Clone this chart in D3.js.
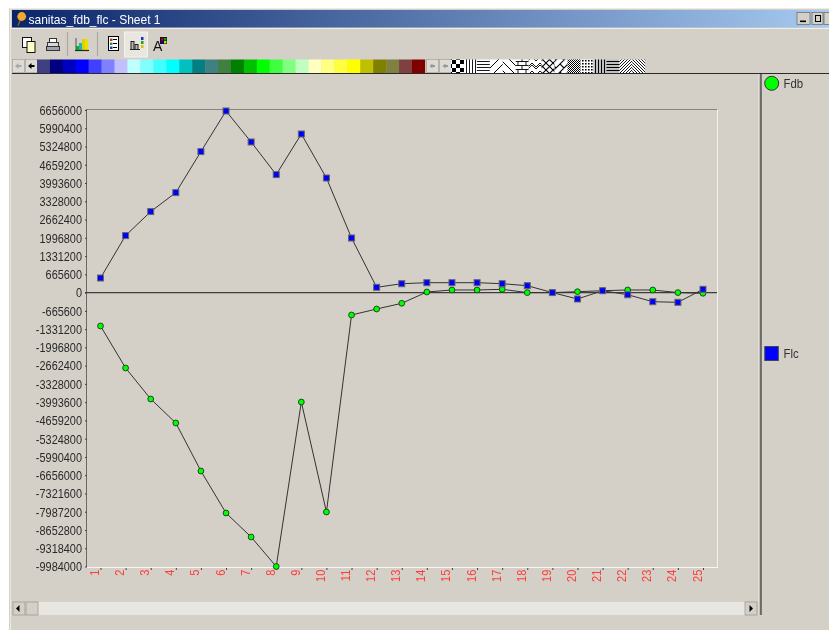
<!DOCTYPE html>
<html><head><meta charset="utf-8">
<script src="https://cdn.jsdelivr.net/npm/d3@7"></script>
<style>
html,body{margin:0;padding:0;background:#fff;overflow:hidden}
svg{display:block}
text{font-family:"Liberation Sans",Arial,sans-serif}
</style></head><body><div id="c"></div>
<script>
const categories=d3.range(1,26).map(String);
const fdbValues=[-1217000,-2748000,-3878000,-4753000,-6503000,-8034000,-8909000,-9984000,-3988000,-7997000,-816000,-598000,-390000,22000,95000,95000,120000,0,0,33000,69000,95000,95000,0,-25000];
const flcValues=[532000,2078000,2953000,3645000,5140000,6620000,5490000,4301000,5781000,4177000,1990000,193000,324000,361000,361000,361000,324000,252000,0,-233000,69000,-77000,-332000,-354000,120000];
const yTicks=[6656000,5990400,5324800,4659200,3993600,3328000,2662400,1996800,1331200,665600,0,-665600,-1331200,-1996800,-2662400,-3328000,-3993600,-4659200,-5324800,-5990400,-6656000,-7321600,-7987200,-8652800,-9318400,-9984000];
const paletteColors=["#404080","#000080","#0000c0","#0000ff","#4040ff","#8080ff","#c0c0ff","#c0ffff","#80ffff","#40ffff","#00ffff","#00c0c0","#008080","#408080","#408040","#008000","#00c000","#00ff00","#40ff40","#80ff80","#c0ffc0","#ffffc0","#ffff80","#ffff40","#ffff00","#c0c000","#808000","#808040","#804040","#800000"];
// tile size, path, filled, stroke width
const hatches=[
 [8,"M0 0h4v4h-4zM4 4h4v4h-4z",1,0],
 [3,"M1.5 0v3",0,.9],
 [3,"M0 1.5h3",0,.9],
 [9,"M0 9L9 0M-2 2L2 -2M7 11L11 7",0,1],
 [9,"M0 0L9 9M-2 7L2 11M7 -2L11 2",0,1],
 [8,"M0 1.5h8M0 5.5h8M2 1.5v4M6 5.5v4M6 -2.5v4",0,.9],
 [8,"M0 5L4 1L8 5M0 11L4 7L8 11M0 3L4 -1L8 3",0,.9],
 [7,"M0 0L7 7M0 7L7 0",0,1.1],
 [8,"M0 8L8 0M-4 4L4 -4M4 12L12 4M0 0L4 4",0,1.1],
 [2,"M0 0h1v1h-1zM1 1h1v1h-1z",1,0],
 [3,"M0 0h1.6v1.6h-1.6z",1,0],
 [3,"M1.5 0v3",0,1.5],
 [3,"M0 1.5h3",0,1.5],
 [3,"M0 3L3 0M-1 1L1 -1M2 4L4 2",0,.9],
 [3,"M0 0L3 3M-1 2L1 4M2 -1L4 1",0,.9]];

const W=829,H=630,face="#d4d0c8";
const svg=d3.select("#c").append("svg").attr("width",W).attr("height",H).style("filter","blur(0.35px)");
const defs=svg.append("defs");
const g=defs.append("linearGradient").attr("id","tb");
g.append("stop").attr("offset",0).attr("stop-color","#0a246a");
g.append("stop").attr("offset",1).attr("stop-color","#a6caf0");
hatches.forEach(([s,d,filled,sw],i)=>{
  const p=defs.append("pattern").attr("id","h"+i).attr("patternUnits","userSpaceOnUse").attr("width",s).attr("height",s);
  p.append("rect").attr("width",s).attr("height",s).attr("fill","#fff");
  const a=p.append("path").attr("d",d);
  if(filled) a.attr("fill","#000"); else a.attr("fill","none").attr("stroke","#000").attr("stroke-width",sw);
});
const rect=(x,y,w,h,f,par=svg)=>par.append("rect").attr("x",x).attr("y",y).attr("width",w).attr("height",h).attr("fill",f);
const line=(x1,y1,x2,y2,c,w=1)=>svg.append("line").attr("x1",x1).attr("y1",y1).attr("x2",x2).attr("y2",y2).attr("stroke",c).attr("stroke-width",w);

// window
rect(0,0,W,H,"#fff");
rect(9,8,W-9,H-8,face);
line(10.5,8,10.5,H,"#ece9e3");
line(10.5,8.5,W,8.5,"#eeeae4");
rect(12,10,W-12,17.5,"url(#tb)");
// pin icon
svg.append("path").attr("d","M20.5 19.5L18 25.5").attr("stroke","#9a6a10").attr("stroke-width",1.3);
svg.append("circle").attr("cx",21.7).attr("cy",16.5).attr("r",4.4).attr("fill","#f5a82f");
svg.append("text").attr("x",28.5).attr("y",24).attr("font-size",13).attr("fill","#fff").attr("textLength",132).attr("lengthAdjust","spacingAndGlyphs").text("sanitas_fdb_flc - Sheet 1");
// window buttons
[[797,13],[812,11],[824,12]].forEach(([x,w])=>{svg.append("rect").attr("x",x).attr("y",12.5).attr("width",w).attr("height",12).attr("fill",face).attr("stroke","#666").attr("stroke-width",.7);});
rect(800,20.5,6,1.6,"#000");
svg.append("rect").attr("x",815.5).attr("y",15.5).attr("width",5).attr("height",6).attr("fill","none").attr("stroke","#000");
line(10,28.5,W,28.5,"#f0eee8");

// toolbar
const doc=(x,y)=>{svg.append("rect").attr("x",x).attr("y",y).attr("width",9).attr("height",10).attr("fill","#fff").attr("stroke","#111");svg.append("rect").attr("x",x+4.5).attr("y",y+4).attr("width",8).attr("height",11).attr("fill","#ffffc8").attr("stroke","#111");};
doc(22.5,37.5);
rect(47.5,42.5,11,6,"#d8d8d8").attr("stroke","#333");rect(49.5,38.5,7,4,"#fff").attr("stroke","#333");rect(46.5,46.5,13,4,"#a0a0b0").attr("stroke","#333");
line(67.5,32,67.5,56,"#aaa79f",1.2);
[[76,46,3,"#00c000"],[79,43,3,"#20b0c0"],[82,39,3,"#e0d000"],[85,39,3,"#e8e000"]].forEach(([x,y,w,c])=>rect(x,y,w,50-y,c));
line(75,50.5,89,50.5,"#222",1.2);
line(76,38,76,50,"#555");
line(97.5,32,97.5,56,"#aaa79f",1.2);
rect(108.5,36.5,10,14,"#fff").attr("stroke","#000");
[[38.5,"#c03030"],[42.5,"#20a020"],[46.5,"#2030c0"]].forEach(([y,c])=>{rect(110,y,2.5,2.5,c);line(113,y+1,117,y+1,"#000");});
rect(124.5,32,23,25,"#e8e6e0").attr("stroke","#f4f2ee");
line(130,49.5,140,49.5,"#222");rect(131,41.5,3,8,"#b8b4a8").attr("stroke","#222");rect(135,44.5,3,5,"#b8b4a8").attr("stroke","#222");
[[37,"#2030c0"],[41,"#20a020"],[45,"#e0c000"]].forEach(([y,c])=>rect(141,y,2.5,3,c));
svg.append("text").attr("x",153).attr("y",51).attr("font-size",14).attr("font-family","Liberation Serif").attr("fill","#111").text("A");
rect(160,37,7,7,"#111");
[[161,38,"#c00000"],[164,38,"#00a000"],[161,41,"#0000c0"],[164,41,"#e0d000"]].forEach(([x,y,c])=>rect(x,y,2.5,2.5,c));

// palette
[[12,"#aaa"],[25,"#000"]].forEach(([x,c])=>{rect(x+.5,59.5,12,13,"#dedbd4").attr("stroke","#999").attr("stroke-width",.6);svg.append("path").attr("d",`M${x+3} 66l3.5 -3v2h3v2h-3v2z`).attr("fill",c);});
const sw=12.93;
svg.append("g").selectAll("rect").data(paletteColors).join("rect").attr("x",(d,i)=>37+i*sw).attr("y",59.5).attr("width",sw+.2).attr("height",14).attr("fill",d=>d);
[426,439].forEach(x=>{rect(x+.5,59.5,12,13,"#dedbd4").attr("stroke","#999").attr("stroke-width",.6);svg.append("path").attr("d",`M${x+3.5} 66l3 -2.5v1.5h2.5v2h-2.5v1.5z`).attr("fill","#999");});
svg.append("g").selectAll("rect").data(hatches).join("rect").attr("x",(d,i)=>451+i*12.95).attr("y",59.5).attr("width",12.95).attr("height",14).attr("fill",(d,i)=>`url(#h${i})`);
line(12,73.5,W,73.5,"#2a2a2a");

// divider
rect(759.5,74,2.4,541,"#6c6a66");
line(759,74,759,615,"#f3f1ec",.8);

// chart
const x=d3.scalePoint().domain(categories).range([100.5,703]);
const y=d3.scaleLinear().domain([-9984000,6656000]).range([566.5,110]);
const plotL=87,plotR=717;
svg.append("path").attr("d",`M${plotL} 109.5H${plotR}`).attr("fill","none").attr("stroke","#888580");
line(plotR+.5,110,plotR+.5,567,"#f4f2ee");
line(plotL-.5,109,plotL-.5,567,"#6a6864");
line(plotL,567.5,plotR+1,567.5,"#f7f6f2");

const yAx=svg.append("g").attr("transform",`translate(${plotL},0)`).call(d3.axisLeft(y).tickValues(yTicks).tickSize(2).tickPadding(3).tickFormat(d=>String(d)));
yAx.select(".domain").remove();
yAx.selectAll("line").attr("stroke","#444");
yAx.selectAll("text").attr("font-size",12).attr("fill","#2a2a2a").attr("transform","translate(-5,0) scale(.91,1)").attr("x",0).attr("dy","0.36em");

const xAx=svg.append("g").attr("transform","translate(0,568)").call(d3.axisBottom(x).tickSize(2).tickFormat(d=>d));
xAx.select(".domain").remove();
xAx.selectAll("line").attr("stroke","#444");
xAx.selectAll("text").attr("font-size",12.5).attr("fill","#ff3c3c").attr("text-anchor","end")
  .attr("transform","translate(-6.5,0) rotate(-90) scale(.88,1)").attr("x",-2).attr("y",0).attr("dy","0.36em");

// zero line
line(plotL-2,292.6,plotR,292.6,"#3c3c3c",1.2);

const ln=d3.line().x((d,i)=>x(categories[i])).y(d=>y(d));
[fdbValues,flcValues].forEach(v=>svg.append("path").attr("d",ln(v)).attr("fill","none").attr("stroke","#333").attr("stroke-width",1));
svg.append("g").selectAll("circle").data(fdbValues).join("circle").attr("cx",(d,i)=>x(categories[i])).attr("cy",d=>y(d)).attr("r",2.9).attr("fill","#00ff00").attr("stroke","#1a3a1a").attr("stroke-width",.9);
svg.append("g").selectAll("rect").data(flcValues).join("rect").attr("x",(d,i)=>x(categories[i])-3).attr("y",d=>y(d)-3).attr("width",6).attr("height",6).attr("fill","#0000ff").attr("stroke","#666").attr("stroke-width",1);

// legend
svg.append("circle").attr("cx",771.7).attr("cy",83.3).attr("r",7).attr("fill","#00ff00").attr("stroke","#333").attr("stroke-width",1);
svg.append("text").attr("transform","translate(783.5,88) scale(.91,1)").attr("font-size",12.5).attr("fill","#333").text("Fdb");
svg.append("rect").attr("x",764.8).attr("y",346.5).attr("width",13.5).attr("height",14).attr("fill","#0000ff").attr("stroke","#444");
svg.append("text").attr("transform","translate(783.5,358) scale(.91,1)").attr("font-size",12.5).attr("fill","#333").text("Flc");

// scrollbar
rect(13,602,743,13,"#e8e6e1");
rect(13,602,12,13,face).attr("stroke","#8a8880").attr("stroke-width",.6);
svg.append("path").attr("d","M16 608.5l3.5 -3.5v7z").attr("fill","#000");
rect(26,602,12,13,face).attr("stroke","#8a8880").attr("stroke-width",.6);
rect(745,602,12,13,face).attr("stroke","#8a8880").attr("stroke-width",.6);
svg.append("path").attr("d","M753 608.5l-3.5 -3.5v7z").attr("fill","#000");
</script></body></html>
